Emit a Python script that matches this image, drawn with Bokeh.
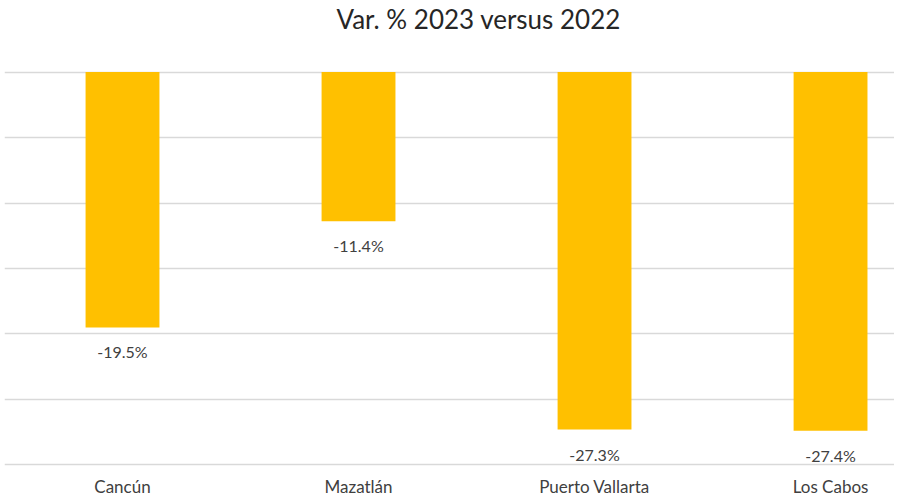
from bokeh.plotting import figure
from bokeh.models import ColumnDataSource, FixedTicker, Range1d, Title
from bokeh.embed import file_html
from bokeh.resources import INLINE
from bokeh.core.properties import value

title_text = "Var. % 2023 versus 2022"
categories = ["Cancún", "Mazatlán", "Puerto Vallarta", "Los Cabos"]
values = [-19.5, -11.4, -27.3, -27.4]
labels = ["-19.5%", "-11.4%", "-27.3%", "-27.4%"]
y_ticks = [0, -5, -10, -15, -20, -25, -30]

FONT = "Lato"
TXT = "#404040"

xs = list(range(len(categories)))
src = ColumnDataSource(dict(x=xs, top=[0] * len(values), bottom=values, lab=labels))

p = figure(frame_width=890, frame_height=398, output_backend="svg", toolbar_location=None,
           x_range=Range1d(-0.5, 3.271), y_range=Range1d(-30.2, 0.2),
           min_border_left=4, min_border_right=0, min_border_top=69, min_border_bottom=23)
p.outline_line_color = None
p.title = Title(text=title_text + "\n ", align="left", text_font=FONT,
                text_font_size="26px", text_font_style="normal", text_color="#262626",
                offset=332, standoff=2, vertical_align="top")

p.vbar(x="x", top="top", bottom="bottom", width=0.313, source=src,
       fill_color="#FFC000", line_color=None)
p.text(x="x", y="bottom", text="lab", source=src, text_align="center",
       text_baseline="top", y_offset=15, text_font=value(FONT),
       text_font_size="16px", text_color=TXT)

p.xaxis.ticker = FixedTicker(ticks=xs)
p.xaxis.major_label_overrides = {i: c for i, c in enumerate(categories)}
p.xaxis.axis_line_color = None
p.xaxis.major_tick_line_color = None
p.xaxis.minor_tick_line_color = None
p.xaxis.major_label_text_font = FONT
p.xaxis.major_label_text_font_size = "17px"
p.xaxis.major_label_text_color = TXT
p.xaxis.major_label_standoff = 2
p.xgrid.grid_line_color = None

p.yaxis.ticker = FixedTicker(ticks=y_ticks)
p.yaxis.visible = False
p.ygrid.ticker = FixedTicker(ticks=y_ticks)
p.ygrid.grid_line_color = "#D9D9D9"
p.ygrid.grid_line_width = 1.5

open("out.html", "w").write(file_html(p, INLINE))
